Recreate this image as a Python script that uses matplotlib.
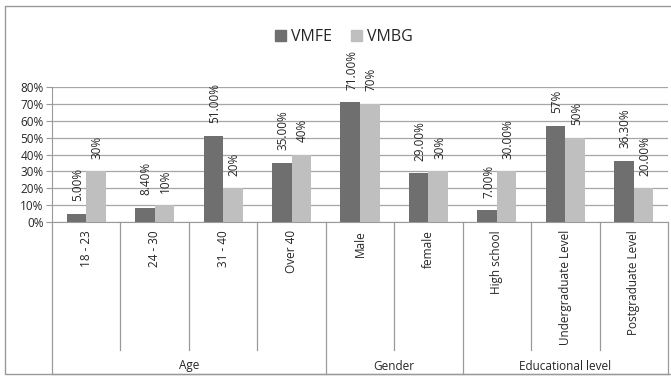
import matplotlib
matplotlib.use("Agg")
import matplotlib.pyplot as plt
import matplotlib.transforms as mtransforms
from matplotlib.lines import Line2D
from matplotlib.patches import Patch
import numpy as np

plt.rcParams['font.family'] = ['Open Sans', 'DejaVu Sans']

categories = ["18 - 23", "24 - 30", "31 - 40", "Over 40", "Male", "female",
              "High school", "Undergraduate Level", "Postgraduate Level"]
groups = ["Age", "Gender", "Educational level"]
group_sizes = [4, 2, 3]
vmfe = [5.0, 8.4, 51.0, 35.0, 71.0, 29.0, 7.0, 57.0, 36.3]
vmbg = [30, 10, 20, 40, 70, 30, 30, 50, 20]
vmfe_labels = ["5.00%", "8.40%", "51.00%", "35.00%", "71.00%", "29.00%", "7.00%", "57%", "36.30%"]
vmbg_labels = ["30%", "10%", "20%", "40%", "70%", "30%", "30.00%", "50%", "20.00%"]
yticks = [0, 10, 20, 30, 40, 50, 60, 70, 80]

DARK = "#6f6f6f"
LIGHT = "#bfbfbf"
GRID = "#a6a6a6"
LINE = "#9a9a9a"
TXT = "#262626"

W, H = 671, 376
fig = plt.figure(figsize=(W / 100, H / 100), dpi=100)
ax = fig.add_axes([52 / W, 1 - 222 / H, 616 / W, (222 - 87) / H])

n = len(categories)
x = np.arange(n)
bw = 0.285
b1 = ax.bar(x - bw / 2, vmfe, bw, color=DARK, zorder=3)
b2 = ax.bar(x + bw / 2, vmbg, bw, color=LIGHT, zorder=3)

fs = 8.5
for rect, lab in zip(b1, vmfe_labels):
    ax.annotate(lab, (rect.get_x() + rect.get_width() / 2 + 0.02, rect.get_height()),
                xytext=(0, 9), textcoords="offset points", rotation=90,
                ha="center", va="bottom", fontsize=fs, color=TXT, annotation_clip=False)
for rect, lab in zip(b2, vmbg_labels):
    ax.annotate(lab, (rect.get_x() + rect.get_width() / 2 + 0.02, rect.get_height()),
                xytext=(0, 9), textcoords="offset points", rotation=90,
                ha="center", va="bottom", fontsize=fs, color=TXT, annotation_clip=False)

ax.set_xlim(-0.5, n - 0.5)
ax.set_ylim(0, 80)
ax.set_yticks(yticks)
ax.set_yticklabels([f"{v}%" for v in yticks], fontsize=fs, color=TXT)
ax.yaxis.grid(True, color=GRID, linewidth=0.9, zorder=0)
ax.set_axisbelow(True)
ax.tick_params(axis="y", length=4, color=LINE, pad=2)
ax.set_xticks([])
for s in ["top", "right"]:
    ax.spines[s].set_visible(False)
ax.spines["left"].set_color(LINE)
ax.spines["bottom"].set_color(LINE)

# multi-level category axis
tr = mtransforms.blended_transform_factory(ax.transData, fig.transFigure)
y0 = 1 - 222 / H
y_short = 1 - 350 / H
y_bot = 1 - 374 / H
for i, c in enumerate(categories):
    ax.text(i, 1 - 230 / H, c, transform=tr, rotation=90, ha="center", va="top",
            fontsize=fs, color=TXT)
bounds = np.cumsum([0] + group_sizes)
group_edges = set(bounds.tolist())
for k in range(n + 1):
    xe = k - 0.5
    yend = y_bot if k in group_edges else y_short
    ax.add_line(Line2D([xe, xe], [y0, yend], transform=tr, color=LINE, lw=0.9, clip_on=False))
ax.add_line(Line2D([-0.5, n - 0.5], [y_bot, y_bot], transform=tr, color=LINE, lw=0.9, clip_on=False))
for g, a, b in zip(groups, bounds[:-1], bounds[1:]):
    ax.text((a + b - 1) / 2, 1 - 366 / H, g, transform=tr, ha="center", va="center",
            fontsize=fs, color=TXT)

# outer chart border (left, top, bottom)
fig.add_artist(Line2D([1.0, 5 / W, 5 / W, 1.0], [1 - 6 / H, 1 - 6 / H, y_bot, y_bot],
                      transform=fig.transFigure, color=LINE, lw=1.0))

handles = [Patch(color=DARK, label="VMFE"), Patch(color=LIGHT, label="VMBG")]
fig.legend(handles=handles, loc="center", bbox_to_anchor=(344 / W, 1 - 37 / H), ncol=2,
           frameon=False, fontsize=11.5, handlelength=0.7, handleheight=0.7,
           handletextpad=0.3, columnspacing=1.2, labelcolor=TXT)

fig.savefig("out.png", dpi=100)
